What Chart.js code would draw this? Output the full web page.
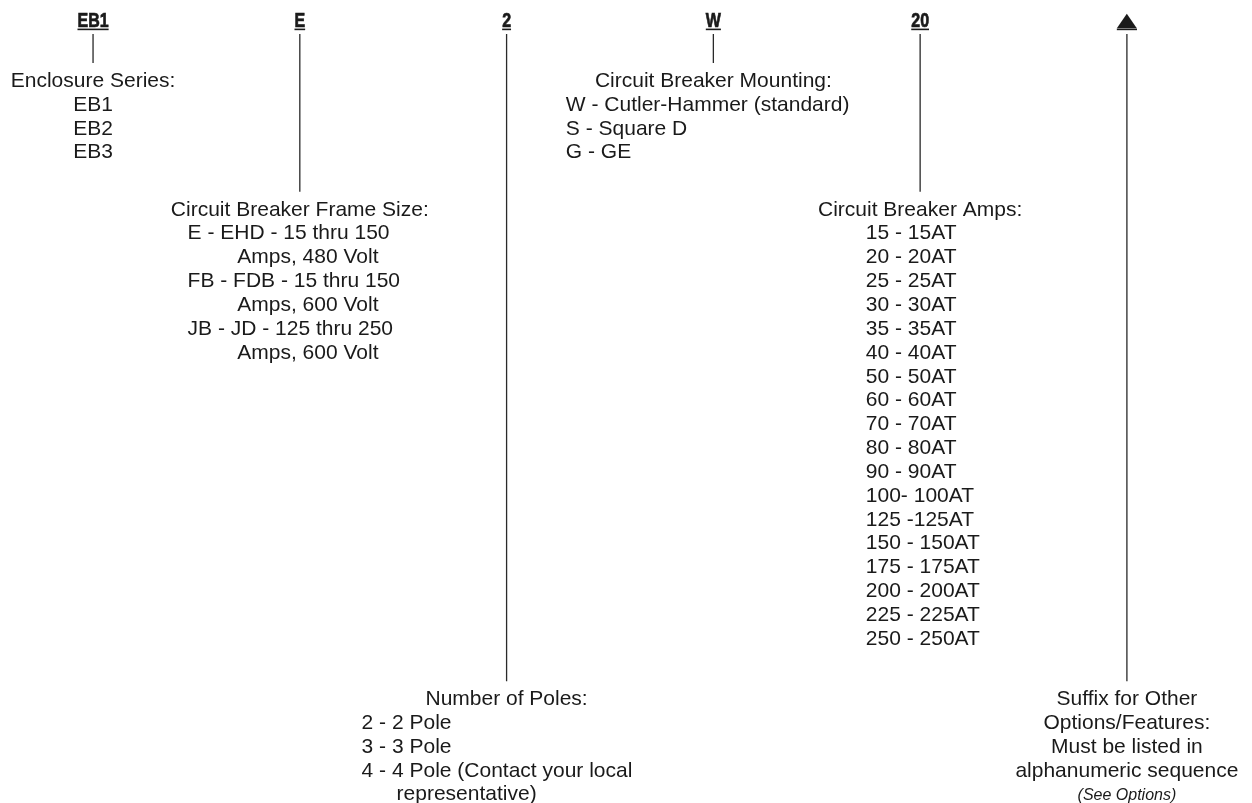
<!DOCTYPE html>
<html>
<head>
<meta charset="utf-8">
<script src="https://cdn.jsdelivr.net/npm/chart.js@4.4.1/dist/chart.umd.min.js"></script>
<style>
  html, body { margin: 0; padding: 0; background: #ffffff; }
  #wrap { width: 1252px; height: 803px; position: relative; }
</style>
</head>
<body>
<div id="wrap"><canvas id="c" width="1252" height="803"></canvas></div>
<script>
// ---------- DATA ----------
const codes = ['EB1', 'E', '2', 'W', '20', '\u25B2'];
const titles = ['Enclosure Series:', 'Circuit Breaker Frame Size:', 'Number of Poles:',
                'Circuit Breaker Mounting:', 'Circuit Breaker Amps:', null];
const enclosureSeries = ['EB1', 'EB2', 'EB3'];
const frameSizes = [
  ['E - EHD - 15 thru 150', 'Amps, 480 Volt'],
  ['FB - FDB - 15 thru 150', 'Amps, 600 Volt'],
  ['JB - JD - 125 thru 250', 'Amps, 600 Volt']
];
const poles = [
  ['2 - 2 Pole'],
  ['3 - 3 Pole'],
  ['4 - 4 Pole (Contact your local', 'representative)']
];
const mountings = ['W - Cutler-Hammer (standard)', 'S - Square D', 'G - GE'];
const breakerAmps = ['15 - 15AT', '20 - 20AT', '25 - 25AT', '30 - 30AT', '35 - 35AT', '40 - 40AT',
  '50 - 50AT', '60 - 60AT', '70 - 70AT', '80 - 80AT', '90 - 90AT', '100- 100AT', '125 -125AT',
  '150 - 150AT', '175 - 175AT', '200 - 200AT', '225 - 225AT', '250 - 250AT'];
const suffixLines = ['Suffix for Other', 'Options/Features:', 'Must be listed in', 'alphanumeric sequence'];
const suffixNote = '(See Options)';
// text line (row) at which each description starts, in text rows from the top
const descRow = [3.64, 9.04, 29.56, 3.64, 9.04, 29.56];

// ---------- LAYOUT / STYLE ----------
const HEADER_ROW = 1.14;     // baseline of the code letters
const CONNECTOR_TOP = 1.43;  // where the leader lines start
const CONNECTOR_GAP = 1.0;   // rows between leader end and description baseline
const BLOCK_STYLE = [
  { itemDx: -19.8, indent: 0 },
  { itemDx: -112.2, indent: 49.6 },
  { itemDx: -145.0, indent: 35 },
  { itemDx: -147.5, indent: 0 },
  { itemDx: -54.3, indent: 0 },
  { itemDx: 0, indent: 0 }
];
const TEXT_COLOR = '#1a1a1a';
const LINE_COLOR = '#2a2a2a';
const BODY_FONT = '21px "Liberation Sans", Arial, Helvetica, sans-serif';
const NOTE_FONT = 'italic 16px "Liberation Sans", Arial, Helvetica, sans-serif';
const CODE_FONT = 'bold 20px "Liberation Sans", Arial, sans-serif';
const CODE_SCALE_X = 0.8;    // condensed look
const SYMBOL_FONT = 'bold 19px "DejaVu Sans", "Liberation Sans", sans-serif';
const SYMBOL_SCALE_X = 1.38;

function itemLines(list) {
  const out = [];
  list.forEach(it => {
    const arr = Array.isArray(it) ? it : [it];
    arr.forEach((t, k) => out.push({ text: t, kind: k === 0 ? 'item' : 'cont' }));
  });
  return out;
}
const blockLines = [
  [{ text: titles[0], kind: 'title' }, ...itemLines(enclosureSeries)],
  [{ text: titles[1], kind: 'title' }, ...itemLines(frameSizes)],
  [{ text: titles[2], kind: 'title' }, ...itemLines(poles)],
  [{ text: titles[3], kind: 'title' }, ...itemLines(mountings)],
  [{ text: titles[4], kind: 'title' }, ...itemLines(breakerAmps)],
  [...suffixLines.map(t => ({ text: t, kind: 'title' })), { text: suffixNote, kind: 'note' }]
];

const connectorSets = codes.map((c, i) => ({
  label: c,
  data: [{ x: i, y: CONNECTOR_TOP }, { x: i, y: descRow[i] - CONNECTOR_GAP }],
  showLine: true,
  borderColor: LINE_COLOR,
  borderWidth: 1.3,
  pointRadius: 0,
  pointHoverRadius: 0,
  fill: false
}));

const textPlugin = {
  id: 'codeText',
  afterDatasetsDraw(chart) {
    const ctx = chart.ctx;
    const xs = chart.scales.x, ys = chart.scales.y;
    const rowPx = Math.abs(ys.getPixelForValue(1) - ys.getPixelForValue(0));
    ctx.save();
    ctx.fillStyle = TEXT_COLOR;
    ctx.strokeStyle = TEXT_COLOR;
    ctx.textBaseline = 'alphabetic';
    // header codes
    codes.forEach((c, i) => {
      const cx = xs.getPixelForValue(i);
      const by = ys.getPixelForValue(HEADER_ROW);
      const isSym = c === '\u25B2';
      const sx = isSym ? SYMBOL_SCALE_X : CODE_SCALE_X;
      ctx.font = isSym ? SYMBOL_FONT : CODE_FONT;
      ctx.textAlign = 'center';
      ctx.save();
      ctx.translate(cx, isSym ? by - 1 : by);
      ctx.scale(sx, 1);
      ctx.fillText(c, 0, 0);
      if (!isSym) { ctx.lineWidth = 0.7; ctx.strokeText(c, 0, 0); }
      ctx.restore();
      const w = ctx.measureText(c).width * sx;
      ctx.lineWidth = 1.6;
      ctx.beginPath();
      ctx.moveTo(cx - w / 2, by + 2.2);
      ctx.lineTo(cx + w / 2, by + 2.2);
      ctx.stroke();
    });
    // description blocks
    blockLines.forEach((lines, i) => {
      const cx = xs.getPixelForValue(i);
      const y0 = ys.getPixelForValue(descRow[i]);
      const st = BLOCK_STYLE[i];
      lines.forEach((ln, k) => {
        const y = y0 + k * rowPx;
        if (ln.kind === 'title' || ln.kind === 'note') {
          ctx.font = ln.kind === 'note' ? NOTE_FONT : BODY_FONT;
          ctx.textAlign = 'center';
          ctx.fillText(ln.text, cx, y);
        } else {
          ctx.font = BODY_FONT;
          ctx.textAlign = 'left';
          const x = cx + st.itemDx + (ln.kind === 'cont' ? st.indent : 0);
          ctx.fillText(ln.text, x, y);
        }
      });
    });
    ctx.restore();
  }
};

new Chart(document.getElementById('c'), {
  type: 'scatter',
  data: { datasets: connectorSets },
  options: {
    responsive: false,
    animation: false,
    layout: { padding: 0 },
    plugins: { legend: { display: false }, tooltip: { enabled: false } },
    events: [],
    scales: {
      x: { type: 'linear', min: -0.45, max: 5.605, display: false },
      y: { type: 'linear', min: 0, max: 33.67, reverse: true, display: false }
    }
  },
  plugins: [textPlugin]
});
</script>
</body>
</html>
